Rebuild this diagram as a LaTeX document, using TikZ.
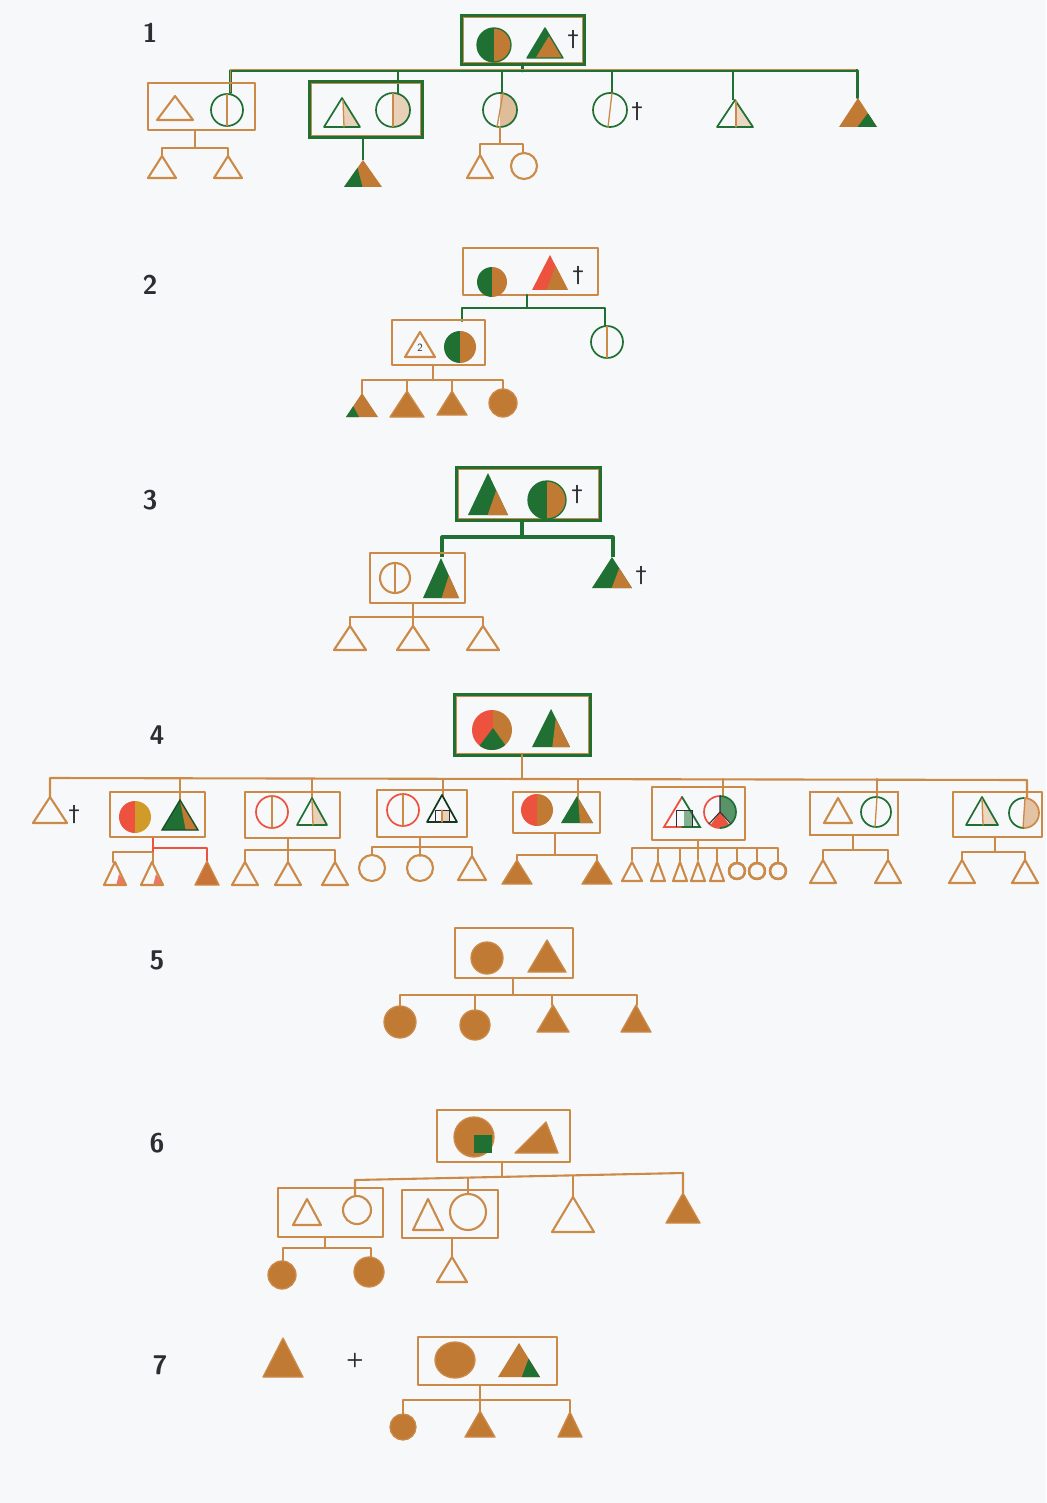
\documentclass[tikz,border=0pt]{standalone}
\usepackage{fontspec}
\newfontfamily\symfont{DejaVu Sans}
\definecolor{penc}{RGB}{204,138,72}
\definecolor{ochre}{RGB}{192,122,52}
\definecolor{leaf}{RGB}{32,112,52}
\definecolor{poppy}{RGB}{236,82,62}
\definecolor{ink}{RGB}{45,45,50}
\definecolor{paper}{RGB}{246,248,250}
\tikzset{
  pen/.style={draw=penc, line width=2.1pt, line join=round, line cap=round},
  gpen/.style={draw=leaf, line width=2.1pt, line join=round, line cap=round},
  rpen/.style={draw=poppy, line width=2.1pt, line join=round, line cap=round},
  thin/.style={line width=1.3pt},
  num/.style={font=\sffamily\bfseries\fontsize{27}{27}\selectfont, text=ink},
  dag/.style={font=\symfont\fontsize{22}{22}\selectfont, text=ink},
}
% triangle: centre x, base y, half width, height
\newcommand{\trip}[4]{({#1-#3},#2) -- ({#1+#3},#2) -- (#1,{#2-#4}) -- cycle}
% circle split vertically into two colours
\newcommand{\halfc}[5]{%
  \begin{scope}\clip ({#1-#3-2},{#2-#3-2}) rectangle (#1,{#2+#3+2}); \fill[#4] (#1,#2) circle[radius=#3];\end{scope}%
  \begin{scope}\clip (#1,{#2-#3-2}) rectangle ({#1+#3+2},{#2+#3+2}); \fill[#5] (#1,#2) circle[radius=#3];\end{scope}}
% couple box drawn with the double green/brown line
\newcommand{\gbox}[4]{\draw[leaf, line width=3.6pt] (#1,#2) rectangle (#3,#4);
  \draw[penc, line width=0.8pt] ({#1+1.2},{#2+1.2}) rectangle ({#3-1.2},{#4-1.2});}
\newcommand{\openTri}[4]{\draw[pen] \trip{#1}{#2}{#3}{#4};}
\newcommand{\fullTri}[4]{\filldraw[pen, thin, fill=ochre] \trip{#1}{#2}{#3}{#4};}
\newcommand{\openCirc}[3]{\draw[pen] (#1,#2) circle[radius=#3];}
\newcommand{\fullCirc}[3]{\filldraw[pen, thin, fill=ochre] (#1,#2) circle[radius=#3];}
% triangle of one colour with a corner polygon in another
\newcommand{\cornerTri}[7]{%
  \begin{scope}\clip \trip{#1}{#2}{#3}{#4};
    \fill[#5] ({#1-#3-2},{#2+2}) rectangle ({#1+#3+2},{#2-#4-2}); \fill[#6] #7;\end{scope}}
\begin{document}
\begin{tikzpicture}[x=1pt,y=-1pt]
\fill[paper] (0,0) rectangle (1046,1503);
\useasboundingbox (0,0) rectangle (1046,1503);

% ================= family 1 =================
\node[num] (g1) at (150,33) {1};
\gbox{462}{16}{584}{64}
\halfc{494}{45}{17}{leaf}{ochre}
\draw[gpen, thin] (494,45) circle[radius=17];
\cornerTri{545}{58}{18}{30}{leaf}{ochre}{(535,59) -- (565,59) -- (549,36) -- cycle}
\draw[gpen, thin] \trip{545}{58}{18}{30};
\node[dag] (x1a) at (573,40) {†};
% sibship line
\draw[leaf, line width=3pt, line cap=round] (522,64) -- (522,71);
\draw[leaf, line width=3pt, line cap=round, line join=round] (230,93) -- (230,71) -- (857,71) -- (857,98);
\draw[penc, line width=1pt] (230.5,92) -- (230.5,69.8) -- (856,69.8);
\foreach \xx/\yy in {398/93, 502/93, 612/93, 733/100}
  \draw[leaf, line width=2.6pt] (\xx,71) -- (\xx,\yy);
% child 1
\draw[pen] (148,83) rectangle (255,130);
\openTri{175}{120}{18}{24}
\draw[gpen, line width=1.7pt] (227,110) circle[radius=16];
\draw[pen, thin] (227,94) -- (227,126);
\draw[pen] (195,130) -- (195,148);
\draw[pen] (162,156) -- (162,148) -- (228,148) -- (228,156);
\openTri{162}{178}{14}{22}
\openTri{228}{178}{14}{22}
% child 2
\gbox{310}{82}{422}{137}
\begin{scope}\clip \trip{342}{127}{18}{29}; \fill[ochre!35] (344,90) rectangle (365,130);\end{scope}
\draw[gpen, line width=1.7pt] \trip{342}{127}{18}{29};
\draw[pen, thin] (343,100) -- (344,127);
\begin{scope}\clip (393,92) rectangle (412,128); \fill[ochre!35] (393,110) circle[radius=17];\end{scope}
\draw[gpen, line width=1.7pt] (393,110) circle[radius=17];
\draw[pen, thin] (393,93) -- (393,127);
\draw[leaf, line width=2.6pt] (363,137) -- (363,160);
\cornerTri{363}{187}{19}{27}{ochre}{leaf}{(341,189) -- (363,189) -- (357,166) -- cycle}
% child 3
\begin{scope}\clip (500,92) rectangle (520,128); \fill[ochre!50] (500,110) circle[radius=17];\end{scope}
\draw[gpen, line width=1.7pt] (500,110) circle[radius=17];
\draw[pen, thin] (503,93) -- (497,127);
\draw[pen] (500,127) -- (500,144);
\draw[pen] (480,155) -- (480,144) -- (523,144) -- (523,153);
\openTri{480}{178}{13}{23}
\openCirc{524}{166}{13}
% child 4
\draw[gpen, line width=1.7pt] (610,110) circle[radius=17];
\draw[pen, thin] (612,93) -- (608,127);
\node[dag] (x1b) at (637,112) {†};
% child 5
\begin{scope}\clip \trip{735}{127}{18}{27}; \fill[ochre!30] (736,95) rectangle (760,130);\end{scope}
\draw[gpen, line width=1.7pt] \trip{735}{127}{18}{27};
\draw[pen, thin] (736,101) -- (736,127);
% child 6
\cornerTri{858}{127}{19}{29}{ochre}{leaf}{(856,129) -- (880,129) -- (868,113) -- cycle}

% ================= family 2 =================
\node[num] (g2) at (150,285) {2};
\draw[pen] (463,248) rectangle (598,295);
\halfc{492}{282}{15}{leaf}{ochre}
\cornerTri{550}{290}{18}{35}{poppy}{ochre}{(546,291) -- (570,291) -- (557,262) -- cycle}
\node[dag] (x2) at (578,276) {†};
\draw[gpen] (527,295) -- (527,308);
\draw[gpen] (462,321) -- (462,308) -- (605,308) -- (605,326);
\draw[pen] (392,320) rectangle (485,365);
\openTri{420}{357}{15}{25}
\node[font=\sffamily\fontsize{11}{11}\selectfont, text=ink] (z2) at (420,348) {2};
\halfc{460}{347}{16}{leaf}{ochre}
\draw[gpen, line width=1.7pt] (607,342) circle[radius=16];
\draw[pen, thin] (607,326) -- (607,358);
\draw[pen] (433,365) -- (433,380);
\draw[pen] (362,393) -- (362,380) -- (503,380) -- (503,389);
\draw[pen] (407,380) -- (407,391);
\draw[pen] (452,380) -- (452,391);
\cornerTri{362}{417}{16}{24}{ochre}{leaf}{(344,419) -- (360,419) -- (352,404) -- cycle}
\fullTri{407}{417}{17}{26}
\fullTri{452}{415}{15}{24}
\fullCirc{503}{403}{14}

% ================= family 3 =================
\node[num] (g3) at (150,500) {3};
\gbox{457}{468}{600}{520}
\cornerTri{488}{515}{20}{42}{leaf}{ochre}{(487,517) -- (510,517) -- (497,488) -- cycle}
\halfc{547}{500}{19}{leaf}{ochre}
\draw[gpen, thin] (547,500) circle[radius=19];
\node[dag] (x3a) at (577,495) {†};
\draw[leaf, line width=3.2pt] (522,520) -- (522,537);
\draw[leaf, line width=3.2pt, line join=round] (442,557) -- (442,537) -- (613,537) -- (613,557);
\draw[pen] (370,553) rectangle (465,603);
\openCirc{395}{578}{15}
\draw[pen, thin] (395,563) -- (395,593);
\cornerTri{441}{598}{18}{40}{leaf}{ochre}{(441,600) -- (462,600) -- (449,575) -- cycle}
\cornerTri{612}{588}{20}{31}{leaf}{ochre}{(611,590) -- (634,590) -- (620,566) -- cycle}
\node[dag] (x3b) at (641,576) {†};
\draw[pen] (413,603) -- (413,626);
\draw[pen] (350,626) -- (350,617) -- (483,617) -- (483,626);
\openTri{350}{650}{16}{24}
\openTri{413}{650}{16}{24}
\openTri{483}{650}{16}{24}

% ================= family 4 =================
\node[num] (g4) at (157,735) {4};
\gbox{455}{695}{590}{755}
\begin{scope}\clip (492,730) circle[radius=20];
  \fill[poppy] (470,708) rectangle (493,752);
  \fill[ochre] (493,708) rectangle (514,752);
  \fill[leaf] (493,728) -- (474,753) -- (511,753) -- cycle;
\end{scope}
\cornerTri{551}{747}{19}{38}{leaf}{ochre}{(552,749) -- (572,749) -- (556,717) -- cycle}
\draw[pen] (522,755) -- (522,778);
\draw[pen] (50,797) -- (50,778) -- (1027,780) -- (1027,800);
\foreach \xx/\yy in {180/800, 312/798, 443/795, 578/797, 723/797, 877/797}
  \draw[pen] (\xx,779) -- (\xx,\yy);
% a
\openTri{50}{823}{17}{26}
\node[dag] (x4) at (74,815) {†};
% b
\draw[pen] (110,792) rectangle (205,837);
\halfc{135}{817}{16}{poppy}{ochre!75!yellow}
\cornerTri{180}{830}{18}{30}{leaf}{ochre}{(180,800) -- (200,832) -- (186,832) -- cycle}
\draw[draw=leaf!70!black, thin] \trip{180}{830}{18}{30};
\draw[pen] (113,862) -- (113,852) -- (153,852) -- (153,862);
\draw[poppy, line width=2.8pt] (153,838) -- (153,852);
\draw[poppy, line width=2.8pt, line join=round] (153,848) -- (207,848) -- (207,862);
\foreach \xx in {115,152}{
  \begin{scope}\clip \trip{\xx}{885}{11}{23}; \fill[poppy!80] (\xx+1,886) -- (\xx+12,886) -- (\xx+4,874) -- cycle;\end{scope}
  \openTri{\xx}{885}{11}{23}}
\filldraw[pen, thin, fill=ochre!85!poppy] \trip{207}{885}{12}{24};
% c
\draw[pen] (245,792) rectangle (340,838);
\draw[rpen, line width=1.7pt] (272,812) circle[radius=16];
\draw[pen, thin] (272,796) -- (272,828);
\begin{scope}\clip \trip{312}{825}{15}{27}; \fill[ochre!35] (313,795) rectangle (330,830);\end{scope}
\draw[gpen, line width=1.7pt] \trip{312}{825}{15}{27};
\draw[pen, thin] (312,800) -- (313,825);
\draw[pen] (288,838) -- (288,862);
\draw[pen] (245,862) -- (245,850) -- (335,850) -- (335,862);
\openTri{245}{885}{13}{23}
\openTri{288}{885}{13}{23}
\openTri{335}{885}{13}{23}
% d
\draw[pen] (377,790) rectangle (467,837);
\draw[rpen, line width=1.7pt] (403,810) circle[radius=16];
\draw[pen, thin] (403,794) -- (403,826);
\fill[ochre!35] (442,810) rectangle (449,822);
\draw[draw=leaf!50!black, line width=1.7pt, line join=round] \trip{442}{822}{15}{27};
\draw[draw=ink, line width=1pt] (435,810) rectangle (449,822);
\draw[pen, thin] (442,810) -- (442,822);
\draw[pen] (420,837) -- (420,856);
\draw[pen] (372,855) -- (372,847) -- (472,847) -- (472,856);
\openCirc{372}{868}{13}
\openCirc{420}{868}{13}
\openTri{472}{880}{14}{24}
% e
\draw[pen] (513,792) rectangle (600,833);
\halfc{537}{810}{16}{poppy}{ochre}
\cornerTri{577}{823}{16}{27}{leaf}{ochre}{(578,796) -- (595,825) -- (580,825) -- cycle}
\draw[pen] (555,833) -- (555,855);
\draw[pen] (517,862) -- (517,855) -- (597,855) -- (597,862);
\fullTri{517}{884}{15}{24}
\fullTri{597}{884}{15}{24}
% f
\draw[pen] (652,787) rectangle (745,840);
\fill[leaf!55] (684,810) rectangle (692,826);
\draw[poppy, line width=1.8pt, line cap=round] (682,827) -- (664,827) -- (682,797);
\draw[leaf, line width=1.8pt, line cap=round] (682,797) -- (700,827) -- (682,827);
\draw[ink, line width=1pt] (676,827) -- (676,810) -- (692,810) -- (692,827);
\begin{scope}\clip (720,812) circle[radius=16];
  \fill[leaf!75] (720,812) -- (720,794) -- (740,794) -- (740,832) -- cycle;
  \fill[poppy] (720,812) -- (704,834) -- (736,834) -- cycle;
\end{scope}
\begin{scope}\clip (700,790) rectangle (720,832); \draw[poppy, line width=1.7pt] (720,812) circle[radius=16];\end{scope}
\begin{scope}\clip (720,790) rectangle (740,832); \draw[leaf, line width=1.7pt] (720,812) circle[radius=16];\end{scope}
\draw[ink, line width=1.1pt, line join=round] (720,796) -- (720,812) -- (709,824);
\draw[ink, line width=1.1pt] (720,812) -- (731,824);
\draw[pen] (698,840) -- (698,860);
\draw[pen] (632,860) -- (632,848) -- (778,848) -- (778,862);
\foreach \xx in {658,680,717,737,757}
  \draw[pen] (\xx,848) -- (\xx,862);
\openTri{632}{881}{10}{19}
\foreach \xx in {658,680,698,717}
  \openTri{\xx}{881}{7}{19}
\foreach \xx in {737,757,778}
  \openCirc{\xx}{871}{8}
% g
\draw[pen] (810,792) rectangle (898,835);
\openTri{838}{823}{14}{25}
\draw[gpen, line width=1.7pt] (876,812) circle[radius=15];
\draw[pen, thin] (877,797) -- (875,827);
\draw[pen] (853,835) -- (853,850);
\draw[pen] (823,860) -- (823,850) -- (888,850) -- (888,860);
\openTri{823}{883}{13}{23}
\openTri{888}{883}{13}{23}
% h
\draw[pen] (953,792) rectangle (1042,837);
\begin{scope}\clip \trip{982}{825}{16}{28}; \fill[ochre!30] (983,795) rectangle (1000,830);\end{scope}
\draw[gpen, line width=1.7pt] \trip{982}{825}{16}{28};
\draw[pen, thin] (982,799) -- (983,825);
\begin{scope}\clip (1024,795) rectangle (1042,830); \fill[ochre!45] (1024,813) circle[radius=15];\end{scope}
\begin{scope}\clip (1005,795) rectangle (1024,830); \draw[gpen, line width=1.7pt] (1024,813) circle[radius=15];\end{scope}
\begin{scope}\clip (1024,795) rectangle (1042,830); \draw[pen, line width=1.7pt] (1024,813) circle[radius=15];\end{scope}
\draw[pen, thin] (1025,798) -- (1023,828);
\draw[pen] (995,837) -- (995,852);
\draw[pen] (962,860) -- (962,852) -- (1025,852) -- (1025,860);
\openTri{962}{883}{13}{23}
\openTri{1025}{883}{13}{23}

% ================= family 5 =================
\node[num] (g5) at (157,960) {5};
\draw[pen] (455,928) rectangle (573,978);
\fullCirc{487}{958}{16}
\fullTri{547}{972}{19}{32}
\draw[pen] (513,978) -- (513,995);
\draw[pen] (400,1006) -- (400,995) -- (637,995) -- (637,1005);
\draw[pen] (475,995) -- (475,1010);
\draw[pen] (552,995) -- (552,1005);
\fullCirc{400}{1022}{16}
\fullCirc{475}{1025}{15}
\fullTri{553}{1032}{16}{27}
\fullTri{636}{1032}{15}{27}

% ================= family 6 =================
\node[num] (g6) at (157,1143) {6};
\draw[pen] (437,1110) rectangle (570,1162);
\fullCirc{474}{1137}{20}
\fill[leaf] (474,1135) rectangle (492,1153);
\filldraw[pen, thin, fill=ochre] (515,1153) -- (558,1153) -- (546,1122) -- cycle;
\draw[pen] (502,1162) -- (502,1177);
\draw[pen] (355,1196) -- (355,1180) -- (683,1173) -- (683,1193);
\draw[pen] (468,1178) -- (468,1194);
\draw[pen] (573,1176) -- (573,1197);
\draw[pen] (278,1188) rectangle (383,1237);
\openTri{307}{1225}{14}{26}
\openCirc{357}{1210}{14}
\draw[pen] (325,1237) -- (325,1248);
\draw[pen] (283,1262) -- (283,1248) -- (371,1248) -- (371,1258);
\fullCirc{282}{1275}{14}
\fullCirc{369}{1272}{15}
\draw[pen] (402,1190) rectangle (498,1238);
\openTri{428}{1230}{15}{31}
\openCirc{468}{1212}{18}
\draw[pen] (452,1238) -- (452,1257);
\openTri{452}{1282}{15}{25}
\openTri{573}{1232}{21}{35}
\fullTri{683}{1223}{17}{30}

% ================= family 7 =================
\node[num] (g7) at (160,1365) {7};
\fullTri{283}{1377}{20}{39}
\node[font=\sffamily\bfseries\fontsize{20}{20}\selectfont, text=ink] (plus) at (355,1360) {+};
\draw[pen] (418,1337) rectangle (557,1385);
\filldraw[pen, thin, fill=ochre] (455,1360) ellipse[x radius=20, y radius=18];
\cornerTri{519}{1377}{21}{34}{ochre}{leaf}{(521,1379) -- (542,1379) -- (530,1355) -- cycle}
\draw[pen] (480,1385) -- (480,1412);
\draw[pen] (403,1414) -- (403,1400) -- (570,1400) -- (570,1412);
\fullCirc{403}{1427}{13}
\fullTri{480}{1437}{15}{26}
\fullTri{570}{1437}{12}{25}
\end{tikzpicture}
\end{document}
